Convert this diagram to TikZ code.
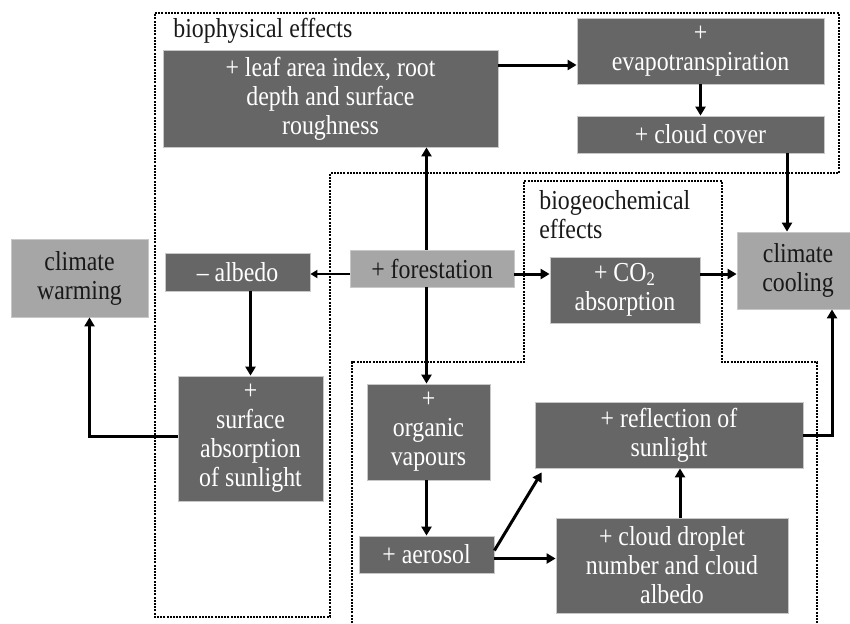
\documentclass[tikz,border=0pt]{standalone}
\usepackage{fontspec}
\setmainfont{Liberation Serif}[FakeStretch=0.87]
\usepackage{tikz}
\usetikzlibrary{arrows.meta,positioning,calc}
\definecolor{boxDark}{RGB}{102,102,102}
\definecolor{boxLight}{RGB}{166,166,166}
\definecolor{boxEdge}{RGB}{200,200,200}
\definecolor{inkBlack}{RGB}{25,25,25}
\tikzset{
  effect node/.style={draw=boxEdge,line width=0.4pt,fill=boxDark,align=center,text=white,inner sep=0pt,font=\fontsize{13.7}{14.5}\selectfont},
  climate node/.style={draw=boxEdge,line width=0.4pt,fill=boxLight,align=center,text=inkBlack,inner sep=0pt,font=\fontsize{13.7}{14.5}\selectfont},
  effect arrow/.style={-{Triangle[length=4.5pt,width=5pt]},line width=1.5pt,draw=black},
  effect arrow thin/.style={-{Triangle[length=3.5pt,width=4pt]},line width=1pt,draw=black},
  region border/.style={line width=1pt,dash pattern=on 1pt off 0.6pt,draw=black},
  region label/.style={align=left,text=inkBlack,inner sep=0pt,font=\fontsize{13.7}{14.5}\selectfont}
}
\begin{document}
\begin{tikzpicture}[x=0.5pt,y=-0.5pt]
        \useasboundingbox (0,0) rectangle (850,623);
        % effect regions
        \draw[region border] (155,13) -- (839,13) -- (839,173) -- (330,173) -- (330,617) -- (155,617) -- cycle;
        \draw[region border] (352,623) -- (352,362) -- (524,362) -- (524,181) -- (722,181) -- (722,362) -- (817,362) -- (817,623);
        \node[region label,anchor=base west] (physlabel) at (173,37) {biophysical effects};
        \node[region label,anchor=north west] (chemlabel) at (539,190) {biogeochemical\\effects};
        % boxes
        \node[effect node,minimum width=167.5pt,minimum height=48.5pt] (leaf) at (330.5,98.5) {+ leaf area index, root\\depth and surface\\roughness};
        \node[effect node,minimum width=123.5pt,minimum height=33pt] (evapo) at (700.5,51) {+\\evapotranspiration};
        \node[effect node,minimum width=123.5pt,minimum height=18.5pt] (cloudcover) at (700.5,134.5) {+ cloud cover};
        \node[climate node,minimum width=68.5pt,minimum height=39pt] (warming) at (79.5,278) {climate\\warming};
        \node[effect node,minimum width=72.5pt,minimum height=19pt] (albedo) at (237.5,272) {-- albedo};
        \node[climate node,minimum width=82pt,minimum height=18.5pt] (forest) at (432,268.5) {+ forestation};
        \node[effect node,minimum width=75pt,minimum height=33pt] (co2) at (625,290) {+ CO\textsubscript{2}\\absorption};
        \node[climate node,minimum width=61pt,minimum height=38.5pt] (cooling) at (798,270.5) {climate\\cooling};
        \node[effect node,minimum width=72.5pt,minimum height=62.5pt] (surface) at (250.5,438.5) {+\\surface\\absorption\\of sunlight};
        \node[effect node,minimum width=61.5pt,minimum height=48pt] (organic) at (428.5,432) {+\\organic\\vapours};
        \node[effect node,minimum width=67.5pt,minimum height=18.5pt] (aerosol) at (426.5,554.5) {+ aerosol};
        \node[effect node,minimum width=134pt,minimum height=33pt] (reflect) at (669,435) {+ reflection of\\sunlight};
        \node[effect node,minimum width=116pt,minimum height=47.5pt] (droplet) at (672,565.5) {+ cloud droplet\\number and cloud\\albedo};
        \coordinate (midrow) at (0,274);
        % arrows
        \draw[effect arrow] (forest.north -| aerosol) -- (leaf.south -| aerosol);
        \draw[effect arrow thin] (forest.west |- midrow) -- (albedo.east |- midrow);
        \draw[effect arrow] (forest.east |- midrow) -- (co2.west |- midrow);
        \draw[effect arrow] (co2.east |- midrow) -- (cooling.west |- midrow);
        \draw[effect arrow] (forest.south -| aerosol) -- (organic.north -| aerosol);
        \draw[effect arrow] (organic.south -| aerosol) -- (aerosol.north);
        \draw[effect arrow] ([yshift=-7pt]evapo.west -| leaf.east) -- ([yshift=-7pt]evapo.west);
        \draw[effect arrow] (evapo.south) -- (cloudcover.north);
        \draw[effect arrow] ([xshift=-5.5pt]cooling.north |- cloudcover.south) -- ([xshift=-5.5pt]cooling.north);
        \draw[effect arrow] (albedo.south -| surface) -- (surface.north);
        \draw[effect arrow] ([yshift=1pt]surface.west) -| ([xshift=5pt]warming.south);
        \draw[effect arrow] (reflect.east) -| ([xshift=17pt]cooling.south);
        \draw[effect arrow] ([xshift=4pt]droplet.north) -- ([xshift=4pt]droplet.north |- reflect.south);
        \draw[effect arrow] ([yshift=2pt]aerosol.east) -- ([shift={(3.5pt,-2pt)}]reflect.south west);
        \draw[effect arrow] ([yshift=-2pt]aerosol.east) -- ([yshift=-2pt]aerosol.east -| droplet.west);
      \end{tikzpicture}
\end{document}
